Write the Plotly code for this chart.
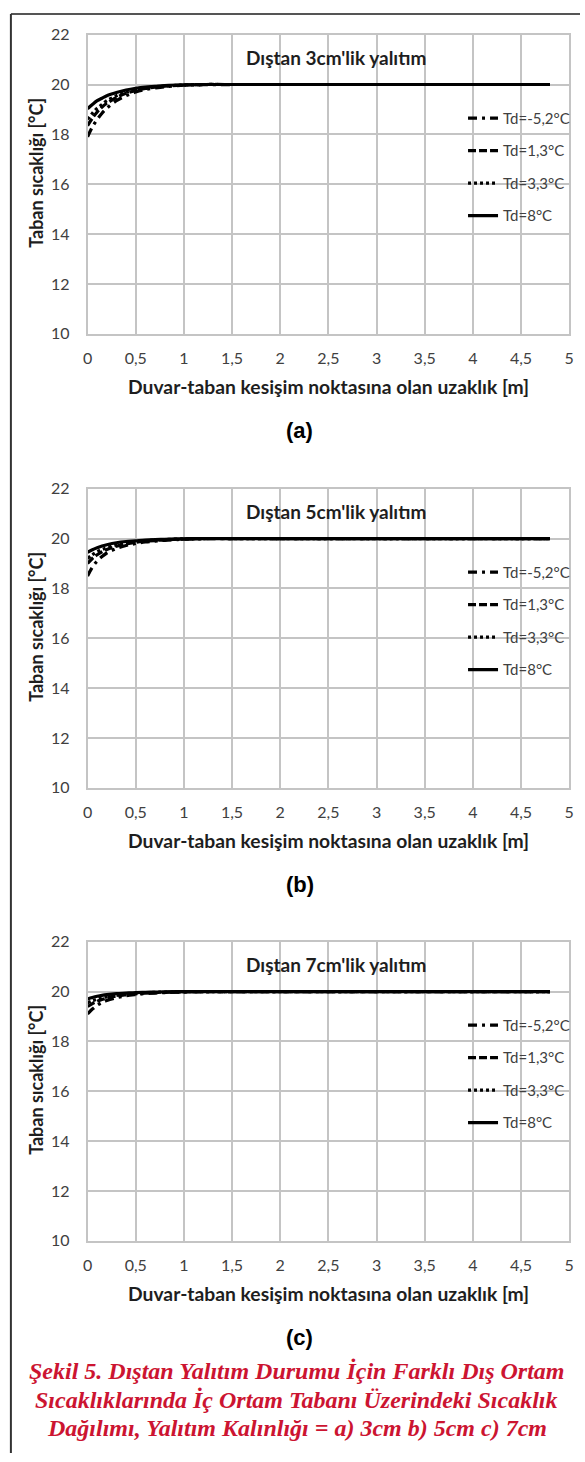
import plotly.graph_objects as go

W, H = 585, 1462

# ---------------- data ----------------
x_m = [0, 0.05, 0.1, 0.15, 0.2, 0.3, 0.4, 0.5, 0.6, 0.7, 0.8, 1.0, 1.2, 1.5, 2.0, 2.5, 3.0, 3.5, 4.0, 4.5, 4.8]

series_names = ["Td=-5,2°C", "Td=1,3°C", "Td=3,3°C", "Td=8°C"]

# panel (a) 3 cm insulation
a_m52 = [17.90, 18.30, 18.60, 18.85, 19.05, 19.35, 19.55, 19.70, 19.80, 19.86, 19.91, 19.97, 19.99, 20.0, 20.0, 20.0, 20.0, 20.0, 20.0, 20.0, 20.0]
a_13 = [18.35, 18.65, 18.90, 19.10, 19.25, 19.48, 19.65, 19.76, 19.84, 19.89, 19.93, 19.98, 20.0, 20.0, 20.0, 20.0, 20.0, 20.0, 20.0, 20.0, 20.0]
a_33 = [18.60, 18.85, 19.05, 19.20, 19.35, 19.55, 19.70, 19.80, 19.87, 19.91, 19.94, 19.98, 20.0, 20.0, 20.0, 20.0, 20.0, 20.0, 20.0, 20.0, 20.0]
a_8 = [19.03, 19.20, 19.35, 19.45, 19.55, 19.68, 19.78, 19.85, 19.90, 19.93, 19.96, 19.99, 20.0, 20.0, 20.0, 20.0, 20.0, 20.0, 20.0, 20.0, 20.0]

# panel (b) 5 cm insulation
b_m52 = [18.50, 18.85, 19.10, 19.28, 19.42, 19.60, 19.72, 19.80, 19.86, 19.90, 19.93, 19.97, 19.99, 20.0, 20.0, 20.0, 20.0, 20.0, 20.0, 20.0, 20.0]
b_13 = [19.00, 19.20, 19.35, 19.47, 19.56, 19.69, 19.78, 19.85, 19.89, 19.92, 19.95, 19.98, 20.0, 20.0, 20.0, 20.0, 20.0, 20.0, 20.0, 20.0, 20.0]
b_33 = [19.20, 19.35, 19.47, 19.56, 19.63, 19.74, 19.82, 19.87, 19.91, 19.94, 19.96, 19.99, 20.0, 20.0, 20.0, 20.0, 20.0, 20.0, 20.0, 20.0, 20.0]
b_8 = [19.45, 19.55, 19.63, 19.70, 19.75, 19.83, 19.88, 19.91, 19.94, 19.96, 19.97, 19.99, 20.0, 20.0, 20.0, 20.0, 20.0, 20.0, 20.0, 20.0, 20.0]

# panel (c) 7 cm insulation
c_m52 = [19.10, 19.30, 19.45, 19.56, 19.64, 19.75, 19.83, 19.88, 19.92, 19.94, 19.96, 19.98, 20.0, 20.0, 20.0, 20.0, 20.0, 20.0, 20.0, 20.0, 20.0]
c_13 = [19.40, 19.52, 19.61, 19.68, 19.74, 19.82, 19.87, 19.91, 19.94, 19.96, 19.97, 19.99, 20.0, 20.0, 20.0, 20.0, 20.0, 20.0, 20.0, 20.0, 20.0]
c_33 = [19.55, 19.63, 19.70, 19.75, 19.79, 19.85, 19.90, 19.93, 19.95, 19.97, 19.98, 19.99, 20.0, 20.0, 20.0, 20.0, 20.0, 20.0, 20.0, 20.0, 20.0]
c_8 = [19.70, 19.76, 19.81, 19.85, 19.88, 19.92, 19.94, 19.96, 19.97, 19.98, 19.99, 20.0, 20.0, 20.0, 20.0, 20.0, 20.0, 20.0, 20.0, 20.0, 20.0]

x_tickvals = [0, 0.5, 1, 1.5, 2, 2.5, 3, 3.5, 4, 4.5, 5]
x_ticktext = ["0", "0,5", "1", "1,5", "2", "2,5", "3", "3,5", "4", "4,5", "5"]
y_tickvals = [10, 12, 14, 16, 18, 20, 22]

panel_titles = ["Dıştan 3cm'lik yalıtım", "Dıştan 5cm'lik yalıtım", "Dıştan 7cm'lik yalıtım"]
panel_labels = ["(a)", "(b)", "(c)"]
x_title = "Duvar-taban kesişim noktasına olan uzaklık [m]"
y_title = "Taban sıcaklığı [°C]"
caption_lines = [
    "Şekil 5. Dıştan Yalıtım Durumu İçin Farklı Dış Ortam",
    "Sıcaklıklarında İç Ortam Tabanı Üzerindeki Sıcaklık",
    "Dağılımı, Yalıtım Kalınlığı = a) 3cm b) 5cm c) 7cm",
]

panels = [
    [a_m52, a_13, a_33, a_8],
    [b_m52, b_13, b_33, b_8],
    [c_m52, c_13, c_33, c_8],
]

# ---------------- styling ----------------
FONT = "Lato"
TXT = "#1e1e1e"
TICK = "#404040"
GRID = "#c4c4c4"
dashes = ["9px,5px,3px,5px", "8px,3px", "3px,3px", "solid"]

plot_left, plot_right = 84, 574
panel_tops = [25, 485, 944]
panel_bottoms = [328, 788, 1247]


def px(x):
    return x / W


def py(y):
    return 1 - y / H


fig = go.Figure()
layout = dict(
    width=W, height=H,
    margin=dict(l=0, r=0, t=0, b=0),
    paper_bgcolor="white", plot_bgcolor="white",
    font=dict(family=FONT, color=TXT),
    annotations=[], shapes=[],
)

for i, series in enumerate(panels):
    n = "" if i == 0 else str(i + 1)
    legname = "legend" + n
    for j, yv in enumerate(series):
        fig.add_trace(go.Scatter(
            x=x_m, y=yv, mode="lines", name=series_names[j],
            line=dict(color="black", width=3.2, dash=dashes[j], shape="spline"),
            xaxis="x" + n, yaxis="y" + n, legend=legname,
            legendgroup=f"p{i}s{j}",
        ))
    top, bot = panel_tops[i], panel_bottoms[i]
    axcommon = dict(showgrid=True, gridcolor=GRID, gridwidth=1.5,
                    showline=True, linecolor=GRID, linewidth=1.5, mirror=True,
                    zeroline=False, ticks="", tickfont=dict(family=FONT, size=16, color=TICK))
    layout["xaxis" + n] = dict(axcommon, domain=[px(plot_left), px(plot_right)],
                                range=[0, 5], tickvals=x_tickvals, ticktext=x_ticktext,
                                anchor="y" + n, ticklabelstandoff=9)
    layout["yaxis" + n] = dict(axcommon, domain=[py(bot), py(top)],
                                range=[10, 22], tickvals=y_tickvals,
                                anchor="x" + n, ticklabelstandoff=13)
    layout[legname] = dict(
        x=px(466), xanchor="left", y=py(top + 68), yanchor="top",
        bgcolor="rgba(0,0,0,0)", borderwidth=0,
        font=dict(family=FONT, size=15, color=TICK),
        traceorder="grouped", tracegroupgap=10,
    )
    # panel title
    layout["annotations"].append(dict(
        text=f"<b>{panel_titles[i]}</b>", x=px(337), y=py(top + 23),
        xref="paper", yref="paper", showarrow=False,
        font=dict(family=FONT, size=19, color=TXT), xanchor="center", yanchor="middle"))
    # x-axis title
    layout["annotations"].append(dict(
        text=f"<b>{x_title}</b>", x=px(329), y=py(bot + 53),
        xref="paper", yref="paper", showarrow=False,
        font=dict(family=FONT, size=19.3, color=TXT), xanchor="center", yanchor="middle"))
    # y-axis title
    layout["annotations"].append(dict(
        text=f"<b>{y_title}</b>", x=px(32), y=py((top + bot) / 2 - 12),
        xref="paper", yref="paper", showarrow=False, textangle=-90,
        font=dict(family=FONT, size=18, color=TXT), xanchor="center", yanchor="middle"))
    # panel label
    layout["annotations"].append(dict(
        text=f"<b>{panel_labels[i]}</b>", x=px(300), y=py(bot + 98),
        xref="paper", yref="paper", showarrow=False,
        font=dict(family="Liberation Sans", size=22, color="black"), xanchor="center", yanchor="middle"))

for k, line in enumerate(caption_lines):
    layout["annotations"].append(dict(
        text=f"<b><i>{line}</i></b>", x=px(297), y=py(1379 + 29 * k),
        xref="paper", yref="paper", showarrow=False,
        font=dict(family="Liberation Serif", size=24, color="#cc1431"),
        xanchor="center", yanchor="middle"))

# page frame (top and left border)
layout["shapes"].append(dict(type="line", xref="paper", yref="paper",
                             x0=px(6), x1=1, y0=py(4), y1=py(4),
                             line=dict(color="#555555", width=2)))
layout["shapes"].append(dict(type="line", xref="paper", yref="paper",
                             x0=px(6), x1=px(6), y0=py(4), y1=0,
                             line=dict(color="#333333", width=2)))

fig.update_layout(**layout)
fig.write_html("out.html")
